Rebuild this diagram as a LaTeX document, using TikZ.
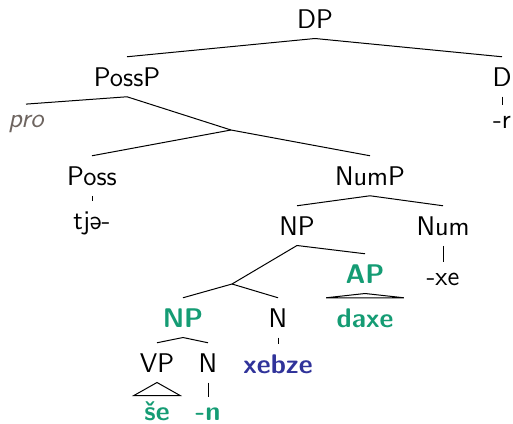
\documentclass[tikz,border=0pt]{standalone}
\usepackage{tikz}
\definecolor{adjgreen}{HTML}{159C74}
\definecolor{nounblue}{HTML}{30339A}
\definecolor{progray}{HTML}{6E6560}

\begin{document}
\begin{tikzpicture}[x=0.5pt,y=-0.5pt,line width=0.5pt,
        font=\sffamily\fontsize{13.5}{16}\selectfont,
        cat/.style={anchor=base,inner sep=5pt},
        hl/.style={cat,text=adjgreen,font=\sffamily\bfseries\fontsize{13.5}{16}\selectfont},
        lex/.style={cat,text=nounblue,font=\sffamily\bfseries\fontsize{13.5}{16}\selectfont}]
                \useasboundingbox (0,0) rectangle (513,423);
                % top levels
                \node[cat](DP)at(315, 28){DP};
                \node[cat](PossP)at(127, 86){PossP};
                \node[cat](D)at(502, 86){D};
                \node[cat](r)at(502, 128){-r};
                \node[cat,text=progray,font=\sffamily\itshape\fontsize{13.5}{16}\selectfont](pro)at(26, 127){pro};
                \coordinate(j1)at(231, 130);
                \node[cat](Poss)at(92, 185){Poss};
                \node[cat](tja)at(92, 229){tjə-};
                \node[cat](NumP)at(370, 185){NumP};
                \node[cat](NP)at(297, 235){NP};
                \node[cat](Num)at(443, 235){Num};
                \node[cat](xe)at(443, 285){-xe};
                % inside NP
                \coordinate(j2)at(232, 284);
                \node[hl](AP)at(365, 283){AP};
                \node[hl](daxe)at(365, 327){daxe};
                \node[hl](NPin)at(183, 327){NP};
                \node[cat](N)at(278, 327){N};
                \node[lex](xebze)at(278, 373){xebze};
                \node[cat](VP)at(157, 372){VP};
                \node[cat](Nin)at(208, 372){N};
                \node[hl,text height=7pt](se)at(157, 420){še};
                \node[hl](n)at(208, 420){-n};
                % branches
                \draw (DP.south) -- (PossP.north);
                \draw (DP.south) -- (D.north);
                \draw (D.south) -- (r.north);
                \draw (PossP.south) -- (pro.north);
                \draw (PossP.south) -- (j1);
                \draw (j1) -- (Poss.north);
                \draw (j1) -- (NumP.north);
                \draw (Poss.south) -- (tja.north);
                \draw (NumP.south) -- (NP.north);
                \draw (NumP.south) -- (Num.north);
                \draw (Num.south) -- (xe.north);
                \draw (NP.south) -- (j2);
                \draw (NP.south) -- (AP.north);
                \draw (AP.south) -- (daxe.north west) -- (daxe.north east) -- cycle;
                \draw (j2) -- (NPin.north);
                \draw (j2) -- (N.north);
                \draw (N.south) -- (xebze.north);
                \draw (NPin.south) -- (VP.north);
                \draw (NPin.south) -- (Nin.north);
                \draw (VP.south) -- (se.north west) -- (se.north east) -- cycle;
                \draw (Nin.south) -- (n.north);
            \end{tikzpicture}
\end{document}
